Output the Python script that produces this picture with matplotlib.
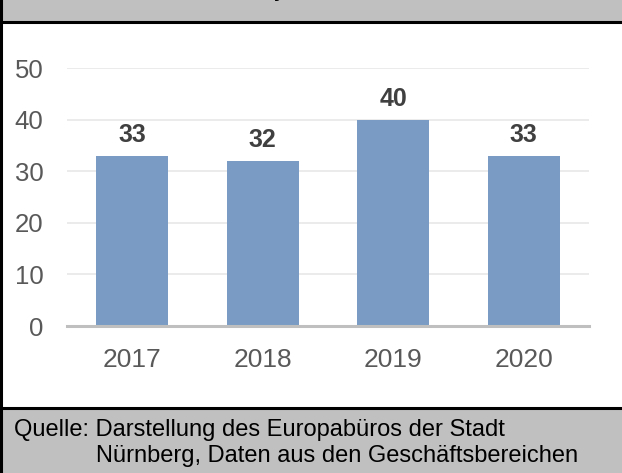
import matplotlib

matplotlib.use("Agg")
import matplotlib.pyplot as plt
from matplotlib.lines import Line2D
from matplotlib.patches import Rectangle

plt.rcParams["font.family"] = ["Liberation Sans", "DejaVu Sans"]

YEARS = ["2017", "2018", "2019", "2020"]
COUNTS = [33, 32, 40, 33]
Y_TICKS = [0, 10, 20, 30, 40, 50]
SOURCE_LINE1 = "Quelle: Darstellung des Europabüros der Stadt"
SOURCE_LINE2 = "Nürnberg, Daten aus den Geschäftsbereichen"

W, H = 622, 473
BAR_COLOR = "#7a9cc4"
BAND_COLOR = "#c0c0c0"


def fx(px):
    return px / W


def fy(py):
    return 1 - py / H


fig = plt.figure(figsize=(W / 100, H / 100), dpi=100)
fig.patch.set_facecolor("white")

# header and footer bands
fig.patches.append(Rectangle((0, fy(21)), 1, 1 - fy(21), transform=fig.transFigure,
                             facecolor=BAND_COLOR, edgecolor="none", zorder=0))
fig.patches.append(Rectangle((0, 0), 1, fy(408), transform=fig.transFigure,
                             facecolor=BAND_COLOR, edgecolor="none", zorder=0))
for yy in (22, 408):
    fig.lines.append(Line2D([0, 1], [fy(yy), fy(yy)], transform=fig.transFigure,
                            color="black", linewidth=2.2))
fig.lines.append(Line2D([fx(1), fx(1)], [0, 1], transform=fig.transFigure,
                        color="black", linewidth=2.2))

# cut-off title remnant at the top edge
fig.text(fx(279), fy(-3), "y", ha="center", va="baseline", fontsize=14,
         fontweight="bold", color="black")

ax = fig.add_axes([fx(67), fy(326), fx(589) - fx(67), fy(68) - fy(326)])
x = range(len(YEARS))
bars = ax.bar(x, COUNTS, width=0.55, color=BAR_COLOR, zorder=3)
for rect, val in zip(bars, COUNTS):
    ax.annotate(str(val), (rect.get_x() + rect.get_width() / 2, val),
                xytext=(0, 21), textcoords="offset pixels",
                ha="center", va="center", fontsize=18, fontweight="bold",
                color="#404040")

ax.set_xlim(-0.5, len(YEARS) - 0.5)
ax.set_ylim(0, 50)
ax.set_yticks(Y_TICKS)
ax.set_yticklabels([str(t) for t in Y_TICKS], fontsize=18.5, color="#595959")
ax.set_xticks(list(x))
ax.set_xticklabels(YEARS, fontsize=19, color="#595959")
ax.tick_params(axis="both", length=0)
ax.tick_params(axis="y", pad=17)
ax.tick_params(axis="x", pad=16)
ax.grid(axis="y", color="#e8e8e8", linewidth=1.2, zorder=0)
ax.set_axisbelow(True)
for side in ["top", "right", "left"]:
    ax.spines[side].set_visible(False)
ax.spines["bottom"].set_color("#bfbfbf")
ax.spines["bottom"].set_linewidth(2.2)
ax.spines["bottom"].set_zorder(4)

fig.text(fx(14), fy(436), SOURCE_LINE1, ha="left", va="baseline", fontsize=17, color="black")
fig.text(fx(96), fy(462), SOURCE_LINE2, ha="left", va="baseline", fontsize=17, color="black")

fig.savefig("out.png", dpi=100)
